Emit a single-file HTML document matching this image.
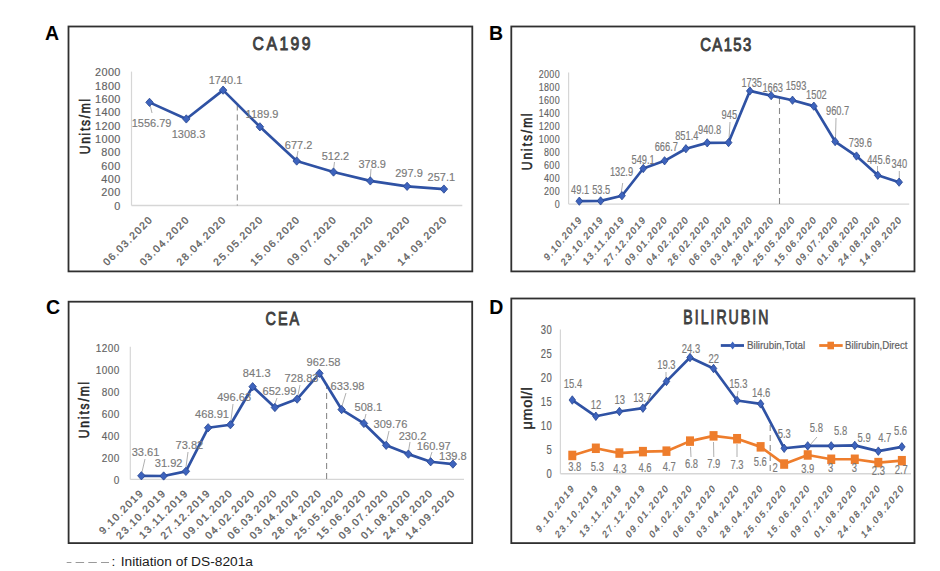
<!DOCTYPE html>
<html><head><meta charset="utf-8"><style>
html,body{margin:0;padding:0;background:#fff;width:940px;height:571px;overflow:hidden}
svg{display:block}
text{font-family:"Liberation Sans", sans-serif}
</style></head><body>
<svg width="940" height="571" viewBox="0 0 940 571">
<rect width="940" height="571" fill="#fff"/>
<g>
<rect x="68.5" y="26.5" width="403.8" height="244.89999999999998" fill="none" stroke="#303030" stroke-width="1.8"/>
<text transform="translate(281.6,49.9) scale(0.83,1)" font-size="19.0" fill="#404040" stroke="#404040" stroke-width="0.95" text-anchor="middle" textLength="69.94" lengthAdjust="spacing">CA199</text>
<text transform="translate(89.5,126.5) rotate(-90) scale(0.86,1)" font-size="14" fill="#262626" stroke="#262626" stroke-width="0.55" text-anchor="middle" textLength="64.48" lengthAdjust="spacing">Units/ml</text>
<text transform="translate(120.4,209.50) scale(1.0,1)" font-size="10.9" fill="#636363" stroke="#636363" stroke-width="0.15" text-anchor="end" textLength="6.37" lengthAdjust="spacing">0</text>
<text transform="translate(120.4,196.17) scale(1.0,1)" font-size="10.9" fill="#636363" stroke="#636363" stroke-width="0.15" text-anchor="end" textLength="19.10" lengthAdjust="spacing">200</text>
<text transform="translate(120.4,182.84) scale(1.0,1)" font-size="10.9" fill="#636363" stroke="#636363" stroke-width="0.15" text-anchor="end" textLength="19.10" lengthAdjust="spacing">400</text>
<text transform="translate(120.4,169.51) scale(1.0,1)" font-size="10.9" fill="#636363" stroke="#636363" stroke-width="0.15" text-anchor="end" textLength="19.10" lengthAdjust="spacing">600</text>
<text transform="translate(120.4,156.18) scale(1.0,1)" font-size="10.9" fill="#636363" stroke="#636363" stroke-width="0.15" text-anchor="end" textLength="19.10" lengthAdjust="spacing">800</text>
<text transform="translate(120.4,142.85) scale(1.0,1)" font-size="10.9" fill="#636363" stroke="#636363" stroke-width="0.15" text-anchor="end" textLength="25.46" lengthAdjust="spacing">1000</text>
<text transform="translate(120.4,129.52) scale(1.0,1)" font-size="10.9" fill="#636363" stroke="#636363" stroke-width="0.15" text-anchor="end" textLength="25.46" lengthAdjust="spacing">1200</text>
<text transform="translate(120.4,116.19) scale(1.0,1)" font-size="10.9" fill="#636363" stroke="#636363" stroke-width="0.15" text-anchor="end" textLength="25.46" lengthAdjust="spacing">1400</text>
<text transform="translate(120.4,102.86) scale(1.0,1)" font-size="10.9" fill="#636363" stroke="#636363" stroke-width="0.15" text-anchor="end" textLength="25.46" lengthAdjust="spacing">1600</text>
<text transform="translate(120.4,89.53) scale(1.0,1)" font-size="10.9" fill="#636363" stroke="#636363" stroke-width="0.15" text-anchor="end" textLength="25.46" lengthAdjust="spacing">1800</text>
<text transform="translate(120.4,76.20) scale(1.0,1)" font-size="10.9" fill="#636363" stroke="#636363" stroke-width="0.15" text-anchor="end" textLength="25.46" lengthAdjust="spacing">2000</text>
<line x1="131.5" y1="71.6" x2="131.5" y2="205.5" stroke="#d6d6d6" stroke-width="1.2"/>
<line x1="131.5" y1="205.5" x2="462.3" y2="205.5" stroke="#d6d6d6" stroke-width="1.4"/>
<line x1="237.3" y1="104.5" x2="237.3" y2="205.5" stroke="#8a8a8a" stroke-width="1.1" stroke-dasharray="6,4"/>
<line x1="150.2" y1="105.6" x2="152" y2="113" stroke="#a6a6a6" stroke-width="0.9"/>
<line x1="298" y1="151" x2="296.8" y2="158" stroke="#a6a6a6" stroke-width="0.9"/>
<line x1="334.5" y1="162" x2="333.6" y2="169" stroke="#a6a6a6" stroke-width="0.9"/>
<line x1="371" y1="169" x2="370.3" y2="178" stroke="#a6a6a6" stroke-width="0.9"/>
<polyline points="149.50,102.36 186.30,118.94 223.10,90.14 259.90,126.83 296.70,161.03 333.50,172.04 370.30,180.93 407.10,186.33 443.90,189.05" fill="none" stroke="#2f52a4" stroke-width="2.7" stroke-linejoin="round"/>
<path d="M149.50 98.21L153.25 102.36L149.50 106.51L145.75 102.36Z" fill="#3d63bd" stroke="#27458f" stroke-width="0.8"/>
<path d="M186.30 114.79L190.05 118.94L186.30 123.09L182.55 118.94Z" fill="#3d63bd" stroke="#27458f" stroke-width="0.8"/>
<path d="M223.10 85.99L226.85 90.14L223.10 94.29L219.35 90.14Z" fill="#3d63bd" stroke="#27458f" stroke-width="0.8"/>
<path d="M259.90 122.68L263.65 126.83L259.90 130.98L256.15 126.83Z" fill="#3d63bd" stroke="#27458f" stroke-width="0.8"/>
<path d="M296.70 156.88L300.45 161.03L296.70 165.18L292.95 161.03Z" fill="#3d63bd" stroke="#27458f" stroke-width="0.8"/>
<path d="M333.50 167.89L337.25 172.04L333.50 176.19L329.75 172.04Z" fill="#3d63bd" stroke="#27458f" stroke-width="0.8"/>
<path d="M370.30 176.78L374.05 180.93L370.30 185.08L366.55 180.93Z" fill="#3d63bd" stroke="#27458f" stroke-width="0.8"/>
<path d="M407.10 182.18L410.85 186.33L407.10 190.48L403.35 186.33Z" fill="#3d63bd" stroke="#27458f" stroke-width="0.8"/>
<path d="M443.90 184.90L447.65 189.05L443.90 193.20L440.15 189.05Z" fill="#3d63bd" stroke="#27458f" stroke-width="0.8"/>
<text transform="translate(151.60,127.49) scale(0.94,1)" font-size="11.7" fill="#7a7a7a" stroke="#7a7a7a" stroke-width="0.15" text-anchor="middle">1556.79</text>
<text transform="translate(188.50,137.79) scale(0.94,1)" font-size="11.7" fill="#7a7a7a" stroke="#7a7a7a" stroke-width="0.15" text-anchor="middle">1308.3</text>
<text transform="translate(225.50,84.09) scale(0.94,1)" font-size="11.7" fill="#7a7a7a" stroke="#7a7a7a" stroke-width="0.15" text-anchor="middle">1740.1</text>
<text transform="translate(262.00,117.69) scale(0.94,1)" font-size="11.7" fill="#7a7a7a" stroke="#7a7a7a" stroke-width="0.15" text-anchor="middle">1189.9</text>
<text transform="translate(298.60,149.19) scale(0.94,1)" font-size="11.7" fill="#7a7a7a" stroke="#7a7a7a" stroke-width="0.15" text-anchor="middle">677.2</text>
<text transform="translate(335.40,160.49) scale(0.94,1)" font-size="11.7" fill="#7a7a7a" stroke="#7a7a7a" stroke-width="0.15" text-anchor="middle">512.2</text>
<text transform="translate(372.20,167.59) scale(0.94,1)" font-size="11.7" fill="#7a7a7a" stroke="#7a7a7a" stroke-width="0.15" text-anchor="middle">378.9</text>
<text transform="translate(409.00,176.79) scale(0.94,1)" font-size="11.7" fill="#7a7a7a" stroke="#7a7a7a" stroke-width="0.15" text-anchor="middle">297.9</text>
<text transform="translate(441.30,181.19) scale(0.94,1)" font-size="11.7" fill="#7a7a7a" stroke="#7a7a7a" stroke-width="0.15" text-anchor="middle">257.1</text>
<text transform="translate(152.50,221) scale(1.0,1) rotate(-45)" font-size="10.2" fill="#5f5f5f" stroke="#5f5f5f" stroke-width="0.35" text-anchor="end" textLength="64.07" lengthAdjust="spacing">06.03.2020</text>
<text transform="translate(189.30,221) scale(1.0,1) rotate(-45)" font-size="10.2" fill="#5f5f5f" stroke="#5f5f5f" stroke-width="0.35" text-anchor="end" textLength="64.07" lengthAdjust="spacing">03.04.2020</text>
<text transform="translate(226.10,221) scale(1.0,1) rotate(-45)" font-size="10.2" fill="#5f5f5f" stroke="#5f5f5f" stroke-width="0.35" text-anchor="end" textLength="64.07" lengthAdjust="spacing">28.04.2020</text>
<text transform="translate(262.90,221) scale(1.0,1) rotate(-45)" font-size="10.2" fill="#5f5f5f" stroke="#5f5f5f" stroke-width="0.35" text-anchor="end" textLength="64.07" lengthAdjust="spacing">25.05.2020</text>
<text transform="translate(299.70,221) scale(1.0,1) rotate(-45)" font-size="10.2" fill="#5f5f5f" stroke="#5f5f5f" stroke-width="0.35" text-anchor="end" textLength="64.07" lengthAdjust="spacing">15.06.2020</text>
<text transform="translate(336.50,221) scale(1.0,1) rotate(-45)" font-size="10.2" fill="#5f5f5f" stroke="#5f5f5f" stroke-width="0.35" text-anchor="end" textLength="64.07" lengthAdjust="spacing">09.07.2020</text>
<text transform="translate(373.30,221) scale(1.0,1) rotate(-45)" font-size="10.2" fill="#5f5f5f" stroke="#5f5f5f" stroke-width="0.35" text-anchor="end" textLength="64.07" lengthAdjust="spacing">01.08.2020</text>
<text transform="translate(410.10,221) scale(1.0,1) rotate(-45)" font-size="10.2" fill="#5f5f5f" stroke="#5f5f5f" stroke-width="0.35" text-anchor="end" textLength="64.07" lengthAdjust="spacing">24.08.2020</text>
<text transform="translate(446.90,221) scale(1.0,1) rotate(-45)" font-size="10.2" fill="#5f5f5f" stroke="#5f5f5f" stroke-width="0.35" text-anchor="end" textLength="64.07" lengthAdjust="spacing">14.09.2020</text>
</g>
<rect x="511.3" y="26.5" width="403.2" height="244.89999999999998" fill="none" stroke="#303030" stroke-width="1.8"/>
<text transform="translate(725.7,50.6) scale(0.8,1)" font-size="18.6" fill="#404040" stroke="#404040" stroke-width="0.95" text-anchor="middle" textLength="63.81" lengthAdjust="spacing">CA153</text>
<text transform="translate(531.5,141.7) rotate(-90) scale(0.86,1)" font-size="14" fill="#262626" stroke="#262626" stroke-width="0.55" text-anchor="middle" textLength="66.22" lengthAdjust="spacing">Units/ml</text>
<text transform="translate(559.6,208.20) scale(0.78,1)" font-size="11.45" fill="#636363" stroke="#636363" stroke-width="0.15" text-anchor="end" textLength="6.69" lengthAdjust="spacing">0</text>
<text transform="translate(559.6,195.15) scale(0.78,1)" font-size="11.45" fill="#636363" stroke="#636363" stroke-width="0.15" text-anchor="end" textLength="20.06" lengthAdjust="spacing">200</text>
<text transform="translate(559.6,182.10) scale(0.78,1)" font-size="11.45" fill="#636363" stroke="#636363" stroke-width="0.15" text-anchor="end" textLength="20.06" lengthAdjust="spacing">400</text>
<text transform="translate(559.6,169.05) scale(0.78,1)" font-size="11.45" fill="#636363" stroke="#636363" stroke-width="0.15" text-anchor="end" textLength="20.06" lengthAdjust="spacing">600</text>
<text transform="translate(559.6,156.00) scale(0.78,1)" font-size="11.45" fill="#636363" stroke="#636363" stroke-width="0.15" text-anchor="end" textLength="20.06" lengthAdjust="spacing">800</text>
<text transform="translate(559.6,142.95) scale(0.78,1)" font-size="11.45" fill="#636363" stroke="#636363" stroke-width="0.15" text-anchor="end" textLength="26.75" lengthAdjust="spacing">1000</text>
<text transform="translate(559.6,129.90) scale(0.78,1)" font-size="11.45" fill="#636363" stroke="#636363" stroke-width="0.15" text-anchor="end" textLength="26.75" lengthAdjust="spacing">1200</text>
<text transform="translate(559.6,116.85) scale(0.78,1)" font-size="11.45" fill="#636363" stroke="#636363" stroke-width="0.15" text-anchor="end" textLength="26.75" lengthAdjust="spacing">1400</text>
<text transform="translate(559.6,103.80) scale(0.78,1)" font-size="11.45" fill="#636363" stroke="#636363" stroke-width="0.15" text-anchor="end" textLength="26.75" lengthAdjust="spacing">1600</text>
<text transform="translate(559.6,90.75) scale(0.78,1)" font-size="11.45" fill="#636363" stroke="#636363" stroke-width="0.15" text-anchor="end" textLength="26.75" lengthAdjust="spacing">1800</text>
<text transform="translate(559.6,77.70) scale(0.78,1)" font-size="11.45" fill="#636363" stroke="#636363" stroke-width="0.15" text-anchor="end" textLength="26.75" lengthAdjust="spacing">2000</text>
<line x1="568.6" y1="72.5" x2="568.6" y2="204.1" stroke="#d6d6d6" stroke-width="1.2"/>
<line x1="568.6" y1="204.1" x2="909.2" y2="204.1" stroke="#d6d6d6" stroke-width="1.4"/>
<line x1="779.5" y1="98" x2="779.5" y2="204.1" stroke="#8a8a8a" stroke-width="1.1" stroke-dasharray="6,4"/>
<line x1="622.7" y1="183" x2="621.3" y2="192" stroke="#a6a6a6" stroke-width="0.9"/>
<line x1="730" y1="122" x2="729" y2="139" stroke="#a6a6a6" stroke-width="0.9"/>
<line x1="836" y1="118" x2="835.5" y2="138" stroke="#a6a6a6" stroke-width="0.9"/>
<line x1="877.5" y1="166" x2="877.5" y2="172" stroke="#a6a6a6" stroke-width="0.9"/>
<line x1="899.3" y1="171" x2="899.3" y2="178" stroke="#a6a6a6" stroke-width="0.9"/>
<polyline points="579.30,201.19 600.62,200.90 621.94,195.71 643.26,168.49 664.58,160.80 685.90,148.72 707.22,142.87 728.54,142.60 749.86,90.93 771.18,95.64 792.50,100.22 813.82,106.17 835.14,141.57 856.46,156.03 877.78,175.26 899.10,182.16" fill="none" stroke="#2f52a4" stroke-width="2.7" stroke-linejoin="round"/>
<path d="M579.30 197.04L582.70 201.19L579.30 205.34L575.90 201.19Z" fill="#3d63bd" stroke="#27458f" stroke-width="0.8"/>
<path d="M600.62 196.75L604.02 200.90L600.62 205.05L597.22 200.90Z" fill="#3d63bd" stroke="#27458f" stroke-width="0.8"/>
<path d="M621.94 191.56L625.34 195.71L621.94 199.86L618.54 195.71Z" fill="#3d63bd" stroke="#27458f" stroke-width="0.8"/>
<path d="M643.26 164.34L646.66 168.49L643.26 172.64L639.86 168.49Z" fill="#3d63bd" stroke="#27458f" stroke-width="0.8"/>
<path d="M664.58 156.65L667.98 160.80L664.58 164.95L661.18 160.80Z" fill="#3d63bd" stroke="#27458f" stroke-width="0.8"/>
<path d="M685.90 144.57L689.30 148.72L685.90 152.87L682.50 148.72Z" fill="#3d63bd" stroke="#27458f" stroke-width="0.8"/>
<path d="M707.22 138.72L710.62 142.87L707.22 147.02L703.82 142.87Z" fill="#3d63bd" stroke="#27458f" stroke-width="0.8"/>
<path d="M728.54 138.45L731.94 142.60L728.54 146.75L725.14 142.60Z" fill="#3d63bd" stroke="#27458f" stroke-width="0.8"/>
<path d="M749.86 86.78L753.26 90.93L749.86 95.08L746.46 90.93Z" fill="#3d63bd" stroke="#27458f" stroke-width="0.8"/>
<path d="M771.18 91.49L774.58 95.64L771.18 99.79L767.78 95.64Z" fill="#3d63bd" stroke="#27458f" stroke-width="0.8"/>
<path d="M792.50 96.07L795.90 100.22L792.50 104.37L789.10 100.22Z" fill="#3d63bd" stroke="#27458f" stroke-width="0.8"/>
<path d="M813.82 102.02L817.22 106.17L813.82 110.32L810.42 106.17Z" fill="#3d63bd" stroke="#27458f" stroke-width="0.8"/>
<path d="M835.14 137.42L838.54 141.57L835.14 145.72L831.74 141.57Z" fill="#3d63bd" stroke="#27458f" stroke-width="0.8"/>
<path d="M856.46 151.88L859.86 156.03L856.46 160.18L853.06 156.03Z" fill="#3d63bd" stroke="#27458f" stroke-width="0.8"/>
<path d="M877.78 171.11L881.18 175.26L877.78 179.41L874.38 175.26Z" fill="#3d63bd" stroke="#27458f" stroke-width="0.8"/>
<path d="M899.10 178.01L902.50 182.16L899.10 186.31L895.70 182.16Z" fill="#3d63bd" stroke="#27458f" stroke-width="0.8"/>
<text transform="translate(580.10,194.16) scale(0.78,1)" font-size="11.9" fill="#7a7a7a" stroke="#7a7a7a" stroke-width="0.15" text-anchor="middle">49.1</text>
<text transform="translate(601.20,194.16) scale(0.78,1)" font-size="11.9" fill="#7a7a7a" stroke="#7a7a7a" stroke-width="0.15" text-anchor="middle">53.5</text>
<text transform="translate(621.50,176.36) scale(0.78,1)" font-size="11.9" fill="#7a7a7a" stroke="#7a7a7a" stroke-width="0.15" text-anchor="middle">132.9</text>
<text transform="translate(643.10,163.66) scale(0.78,1)" font-size="11.9" fill="#7a7a7a" stroke="#7a7a7a" stroke-width="0.15" text-anchor="middle">549.1</text>
<text transform="translate(666.30,151.26) scale(0.78,1)" font-size="11.9" fill="#7a7a7a" stroke="#7a7a7a" stroke-width="0.15" text-anchor="middle">666.7</text>
<text transform="translate(686.80,139.66) scale(0.78,1)" font-size="11.9" fill="#7a7a7a" stroke="#7a7a7a" stroke-width="0.15" text-anchor="middle">851.4</text>
<text transform="translate(709.60,133.66) scale(0.78,1)" font-size="11.9" fill="#7a7a7a" stroke="#7a7a7a" stroke-width="0.15" text-anchor="middle">940.8</text>
<text transform="translate(729.30,119.16) scale(0.78,1)" font-size="11.9" fill="#7a7a7a" stroke="#7a7a7a" stroke-width="0.15" text-anchor="middle">945</text>
<text transform="translate(751.70,87.16) scale(0.78,1)" font-size="11.9" fill="#7a7a7a" stroke="#7a7a7a" stroke-width="0.15" text-anchor="middle">1735</text>
<text transform="translate(772.70,91.56) scale(0.78,1)" font-size="11.9" fill="#7a7a7a" stroke="#7a7a7a" stroke-width="0.15" text-anchor="middle">1663</text>
<text transform="translate(796.00,90.16) scale(0.78,1)" font-size="11.9" fill="#7a7a7a" stroke="#7a7a7a" stroke-width="0.15" text-anchor="middle">1593</text>
<text transform="translate(816.40,98.86) scale(0.78,1)" font-size="11.9" fill="#7a7a7a" stroke="#7a7a7a" stroke-width="0.15" text-anchor="middle">1502</text>
<text transform="translate(837.60,115.06) scale(0.78,1)" font-size="11.9" fill="#7a7a7a" stroke="#7a7a7a" stroke-width="0.15" text-anchor="middle">960.7</text>
<text transform="translate(860.40,146.66) scale(0.78,1)" font-size="11.9" fill="#7a7a7a" stroke="#7a7a7a" stroke-width="0.15" text-anchor="middle">739.6</text>
<text transform="translate(878.80,163.66) scale(0.78,1)" font-size="11.9" fill="#7a7a7a" stroke="#7a7a7a" stroke-width="0.15" text-anchor="middle">445.6</text>
<text transform="translate(899.30,168.46) scale(0.78,1)" font-size="11.9" fill="#7a7a7a" stroke="#7a7a7a" stroke-width="0.15" text-anchor="middle">340</text>
<text transform="translate(581.80,221) scale(0.85,1) rotate(-45)" font-size="10.2" fill="#5f5f5f" stroke="#5f5f5f" stroke-width="0.35" text-anchor="end" textLength="56.95" lengthAdjust="spacing">9.10.2019</text>
<text transform="translate(603.12,221) scale(0.85,1) rotate(-45)" font-size="10.2" fill="#5f5f5f" stroke="#5f5f5f" stroke-width="0.35" text-anchor="end" textLength="64.07" lengthAdjust="spacing">23.10.2019</text>
<text transform="translate(624.44,221) scale(0.85,1) rotate(-45)" font-size="10.2" fill="#5f5f5f" stroke="#5f5f5f" stroke-width="0.35" text-anchor="end" textLength="63.12" lengthAdjust="spacing">13.11.2019</text>
<text transform="translate(645.76,221) scale(0.85,1) rotate(-45)" font-size="10.2" fill="#5f5f5f" stroke="#5f5f5f" stroke-width="0.35" text-anchor="end" textLength="64.07" lengthAdjust="spacing">27.12.2019</text>
<text transform="translate(667.08,221) scale(0.85,1) rotate(-45)" font-size="10.2" fill="#5f5f5f" stroke="#5f5f5f" stroke-width="0.35" text-anchor="end" textLength="64.07" lengthAdjust="spacing">09.01.2020</text>
<text transform="translate(688.40,221) scale(0.85,1) rotate(-45)" font-size="10.2" fill="#5f5f5f" stroke="#5f5f5f" stroke-width="0.35" text-anchor="end" textLength="64.07" lengthAdjust="spacing">04.02.2020</text>
<text transform="translate(709.72,221) scale(0.85,1) rotate(-45)" font-size="10.2" fill="#5f5f5f" stroke="#5f5f5f" stroke-width="0.35" text-anchor="end" textLength="64.07" lengthAdjust="spacing">26.02.2020</text>
<text transform="translate(731.04,221) scale(0.85,1) rotate(-45)" font-size="10.2" fill="#5f5f5f" stroke="#5f5f5f" stroke-width="0.35" text-anchor="end" textLength="64.07" lengthAdjust="spacing">06.03.2020</text>
<text transform="translate(752.36,221) scale(0.85,1) rotate(-45)" font-size="10.2" fill="#5f5f5f" stroke="#5f5f5f" stroke-width="0.35" text-anchor="end" textLength="64.07" lengthAdjust="spacing">03.04.2020</text>
<text transform="translate(773.68,221) scale(0.85,1) rotate(-45)" font-size="10.2" fill="#5f5f5f" stroke="#5f5f5f" stroke-width="0.35" text-anchor="end" textLength="64.07" lengthAdjust="spacing">28.04.2020</text>
<text transform="translate(795.00,221) scale(0.85,1) rotate(-45)" font-size="10.2" fill="#5f5f5f" stroke="#5f5f5f" stroke-width="0.35" text-anchor="end" textLength="64.07" lengthAdjust="spacing">25.05.2020</text>
<text transform="translate(816.32,221) scale(0.85,1) rotate(-45)" font-size="10.2" fill="#5f5f5f" stroke="#5f5f5f" stroke-width="0.35" text-anchor="end" textLength="64.07" lengthAdjust="spacing">15.06.2020</text>
<text transform="translate(837.64,221) scale(0.85,1) rotate(-45)" font-size="10.2" fill="#5f5f5f" stroke="#5f5f5f" stroke-width="0.35" text-anchor="end" textLength="64.07" lengthAdjust="spacing">09.07.2020</text>
<text transform="translate(858.96,221) scale(0.85,1) rotate(-45)" font-size="10.2" fill="#5f5f5f" stroke="#5f5f5f" stroke-width="0.35" text-anchor="end" textLength="64.07" lengthAdjust="spacing">01.08.2020</text>
<text transform="translate(880.28,221) scale(0.85,1) rotate(-45)" font-size="10.2" fill="#5f5f5f" stroke="#5f5f5f" stroke-width="0.35" text-anchor="end" textLength="64.07" lengthAdjust="spacing">24.08.2020</text>
<text transform="translate(901.60,221) scale(0.85,1) rotate(-45)" font-size="10.2" fill="#5f5f5f" stroke="#5f5f5f" stroke-width="0.35" text-anchor="end" textLength="64.07" lengthAdjust="spacing">14.09.2020</text>
<rect x="68.6" y="301.7" width="403.6" height="241.40000000000003" fill="none" stroke="#303030" stroke-width="1.8"/>
<text transform="translate(282.3,325.1) scale(0.76,1)" font-size="19.0" fill="#404040" stroke="#404040" stroke-width="0.95" text-anchor="middle" textLength="44.28" lengthAdjust="spacing">CEA</text>
<text transform="translate(88.8,410) rotate(-90) scale(0.86,1)" font-size="14" fill="#262626" stroke="#262626" stroke-width="0.55" text-anchor="middle" textLength="65.64" lengthAdjust="spacing">Units/ml</text>
<text transform="translate(119.3,483.62) scale(0.873,1)" font-size="11.5" fill="#636363" stroke="#636363" stroke-width="0.15" text-anchor="end" textLength="6.72" lengthAdjust="spacing">0</text>
<text transform="translate(119.3,461.60) scale(0.873,1)" font-size="11.5" fill="#636363" stroke="#636363" stroke-width="0.15" text-anchor="end" textLength="20.15" lengthAdjust="spacing">200</text>
<text transform="translate(119.3,439.58) scale(0.873,1)" font-size="11.5" fill="#636363" stroke="#636363" stroke-width="0.15" text-anchor="end" textLength="20.15" lengthAdjust="spacing">400</text>
<text transform="translate(119.3,417.56) scale(0.873,1)" font-size="11.5" fill="#636363" stroke="#636363" stroke-width="0.15" text-anchor="end" textLength="20.15" lengthAdjust="spacing">600</text>
<text transform="translate(119.3,395.54) scale(0.873,1)" font-size="11.5" fill="#636363" stroke="#636363" stroke-width="0.15" text-anchor="end" textLength="20.15" lengthAdjust="spacing">800</text>
<text transform="translate(119.3,373.52) scale(0.873,1)" font-size="11.5" fill="#636363" stroke="#636363" stroke-width="0.15" text-anchor="end" textLength="26.86" lengthAdjust="spacing">1000</text>
<text transform="translate(119.3,351.50) scale(0.873,1)" font-size="11.5" fill="#636363" stroke="#636363" stroke-width="0.15" text-anchor="end" textLength="26.86" lengthAdjust="spacing">1200</text>
<line x1="130.3" y1="346.7" x2="130.3" y2="479.4" stroke="#d6d6d6" stroke-width="1.2"/>
<line x1="130.3" y1="479.4" x2="464" y2="479.4" stroke="#d6d6d6" stroke-width="1.4"/>
<line x1="326.6" y1="383" x2="326.6" y2="479.4" stroke="#8a8a8a" stroke-width="1.1" stroke-dasharray="6,4"/>
<line x1="145" y1="459" x2="142" y2="472" stroke="#a6a6a6" stroke-width="0.9"/>
<line x1="188" y1="452" x2="186" y2="467" stroke="#a6a6a6" stroke-width="0.9"/>
<line x1="233" y1="404" x2="231" y2="420" stroke="#a6a6a6" stroke-width="0.9"/>
<line x1="277" y1="398" x2="274.5" y2="405" stroke="#a6a6a6" stroke-width="0.9"/>
<line x1="300" y1="385" x2="298" y2="395" stroke="#a6a6a6" stroke-width="0.9"/>
<line x1="346" y1="393" x2="342" y2="406" stroke="#a6a6a6" stroke-width="0.9"/>
<line x1="366" y1="414" x2="364.5" y2="420" stroke="#a6a6a6" stroke-width="0.9"/>
<line x1="389" y1="431" x2="386.5" y2="442" stroke="#a6a6a6" stroke-width="0.9"/>
<line x1="410" y1="442" x2="408.5" y2="451" stroke="#a6a6a6" stroke-width="0.9"/>
<line x1="432" y1="452" x2="430" y2="458" stroke="#a6a6a6" stroke-width="0.9"/>
<polyline points="141.40,475.79 163.65,475.98 185.90,471.36 208.15,427.78 230.40,424.72 252.65,386.70 274.90,407.48 297.15,399.11 319.40,373.33 341.65,409.57 363.90,423.46 386.15,445.33 408.40,454.11 430.65,461.75 452.90,464.08" fill="none" stroke="#2f52a4" stroke-width="2.7" stroke-linejoin="round"/>
<path d="M141.40 471.64L145.15 475.79L141.40 479.94L137.65 475.79Z" fill="#3d63bd" stroke="#27458f" stroke-width="0.8"/>
<path d="M163.65 471.83L167.40 475.98L163.65 480.13L159.90 475.98Z" fill="#3d63bd" stroke="#27458f" stroke-width="0.8"/>
<path d="M185.90 467.21L189.65 471.36L185.90 475.51L182.15 471.36Z" fill="#3d63bd" stroke="#27458f" stroke-width="0.8"/>
<path d="M208.15 423.63L211.90 427.78L208.15 431.93L204.40 427.78Z" fill="#3d63bd" stroke="#27458f" stroke-width="0.8"/>
<path d="M230.40 420.57L234.15 424.72L230.40 428.87L226.65 424.72Z" fill="#3d63bd" stroke="#27458f" stroke-width="0.8"/>
<path d="M252.65 382.55L256.40 386.70L252.65 390.85L248.90 386.70Z" fill="#3d63bd" stroke="#27458f" stroke-width="0.8"/>
<path d="M274.90 403.33L278.65 407.48L274.90 411.63L271.15 407.48Z" fill="#3d63bd" stroke="#27458f" stroke-width="0.8"/>
<path d="M297.15 394.96L300.90 399.11L297.15 403.26L293.40 399.11Z" fill="#3d63bd" stroke="#27458f" stroke-width="0.8"/>
<path d="M319.40 369.18L323.15 373.33L319.40 377.48L315.65 373.33Z" fill="#3d63bd" stroke="#27458f" stroke-width="0.8"/>
<path d="M341.65 405.42L345.40 409.57L341.65 413.72L337.90 409.57Z" fill="#3d63bd" stroke="#27458f" stroke-width="0.8"/>
<path d="M363.90 419.31L367.65 423.46L363.90 427.61L360.15 423.46Z" fill="#3d63bd" stroke="#27458f" stroke-width="0.8"/>
<path d="M386.15 441.18L389.90 445.33L386.15 449.48L382.40 445.33Z" fill="#3d63bd" stroke="#27458f" stroke-width="0.8"/>
<path d="M408.40 449.96L412.15 454.11L408.40 458.26L404.65 454.11Z" fill="#3d63bd" stroke="#27458f" stroke-width="0.8"/>
<path d="M430.65 457.60L434.40 461.75L430.65 465.90L426.90 461.75Z" fill="#3d63bd" stroke="#27458f" stroke-width="0.8"/>
<path d="M452.90 459.93L456.65 464.08L452.90 468.23L449.15 464.08Z" fill="#3d63bd" stroke="#27458f" stroke-width="0.8"/>
<text transform="translate(145.50,456.42) scale(0.94,1)" font-size="11.8" fill="#7a7a7a" stroke="#7a7a7a" stroke-width="0.15" text-anchor="middle">33.61</text>
<text transform="translate(168.60,466.82) scale(0.94,1)" font-size="11.8" fill="#7a7a7a" stroke="#7a7a7a" stroke-width="0.15" text-anchor="middle">31.92</text>
<text transform="translate(189.40,449.02) scale(0.94,1)" font-size="11.8" fill="#7a7a7a" stroke="#7a7a7a" stroke-width="0.15" text-anchor="middle">73.82</text>
<text transform="translate(212.00,417.82) scale(0.94,1)" font-size="11.8" fill="#7a7a7a" stroke="#7a7a7a" stroke-width="0.15" text-anchor="middle">468.91</text>
<text transform="translate(234.10,400.62) scale(0.94,1)" font-size="11.8" fill="#7a7a7a" stroke="#7a7a7a" stroke-width="0.15" text-anchor="middle">496.63</text>
<text transform="translate(256.70,377.42) scale(0.94,1)" font-size="11.8" fill="#7a7a7a" stroke="#7a7a7a" stroke-width="0.15" text-anchor="middle">841.3</text>
<text transform="translate(279.40,394.82) scale(0.94,1)" font-size="11.8" fill="#7a7a7a" stroke="#7a7a7a" stroke-width="0.15" text-anchor="middle">652.99</text>
<text transform="translate(301.50,381.82) scale(0.94,1)" font-size="11.8" fill="#7a7a7a" stroke="#7a7a7a" stroke-width="0.15" text-anchor="middle">728.83</text>
<text transform="translate(323.50,365.82) scale(0.94,1)" font-size="11.8" fill="#7a7a7a" stroke="#7a7a7a" stroke-width="0.15" text-anchor="middle">962.58</text>
<text transform="translate(347.50,390.12) scale(0.94,1)" font-size="11.8" fill="#7a7a7a" stroke="#7a7a7a" stroke-width="0.15" text-anchor="middle">633.98</text>
<text transform="translate(368.40,411.42) scale(0.94,1)" font-size="11.8" fill="#7a7a7a" stroke="#7a7a7a" stroke-width="0.15" text-anchor="middle">508.1</text>
<text transform="translate(390.40,427.82) scale(0.94,1)" font-size="11.8" fill="#7a7a7a" stroke="#7a7a7a" stroke-width="0.15" text-anchor="middle">309.76</text>
<text transform="translate(412.50,439.62) scale(0.94,1)" font-size="11.8" fill="#7a7a7a" stroke="#7a7a7a" stroke-width="0.15" text-anchor="middle">230.2</text>
<text transform="translate(433.80,449.92) scale(0.94,1)" font-size="11.8" fill="#7a7a7a" stroke="#7a7a7a" stroke-width="0.15" text-anchor="middle">160.97</text>
<text transform="translate(452.90,460.42) scale(0.94,1)" font-size="11.8" fill="#7a7a7a" stroke="#7a7a7a" stroke-width="0.15" text-anchor="middle">139.8</text>
<text transform="translate(143.40,494.5) scale(1.0,1) rotate(-45)" font-size="10.2" fill="#5f5f5f" stroke="#5f5f5f" stroke-width="0.35" text-anchor="end" textLength="56.95" lengthAdjust="spacing">9.10.2019</text>
<text transform="translate(165.65,494.5) scale(1.0,1) rotate(-45)" font-size="10.2" fill="#5f5f5f" stroke="#5f5f5f" stroke-width="0.35" text-anchor="end" textLength="64.07" lengthAdjust="spacing">23.10.2019</text>
<text transform="translate(187.90,494.5) scale(1.0,1) rotate(-45)" font-size="10.2" fill="#5f5f5f" stroke="#5f5f5f" stroke-width="0.35" text-anchor="end" textLength="63.12" lengthAdjust="spacing">13.11.2019</text>
<text transform="translate(210.15,494.5) scale(1.0,1) rotate(-45)" font-size="10.2" fill="#5f5f5f" stroke="#5f5f5f" stroke-width="0.35" text-anchor="end" textLength="64.07" lengthAdjust="spacing">27.12.2019</text>
<text transform="translate(232.40,494.5) scale(1.0,1) rotate(-45)" font-size="10.2" fill="#5f5f5f" stroke="#5f5f5f" stroke-width="0.35" text-anchor="end" textLength="64.07" lengthAdjust="spacing">09.01.2020</text>
<text transform="translate(254.65,494.5) scale(1.0,1) rotate(-45)" font-size="10.2" fill="#5f5f5f" stroke="#5f5f5f" stroke-width="0.35" text-anchor="end" textLength="64.07" lengthAdjust="spacing">04.02.2020</text>
<text transform="translate(276.90,494.5) scale(1.0,1) rotate(-45)" font-size="10.2" fill="#5f5f5f" stroke="#5f5f5f" stroke-width="0.35" text-anchor="end" textLength="64.07" lengthAdjust="spacing">06.03.2020</text>
<text transform="translate(299.15,494.5) scale(1.0,1) rotate(-45)" font-size="10.2" fill="#5f5f5f" stroke="#5f5f5f" stroke-width="0.35" text-anchor="end" textLength="64.07" lengthAdjust="spacing">03.04.2020</text>
<text transform="translate(321.40,494.5) scale(1.0,1) rotate(-45)" font-size="10.2" fill="#5f5f5f" stroke="#5f5f5f" stroke-width="0.35" text-anchor="end" textLength="64.07" lengthAdjust="spacing">28.04.2020</text>
<text transform="translate(343.65,494.5) scale(1.0,1) rotate(-45)" font-size="10.2" fill="#5f5f5f" stroke="#5f5f5f" stroke-width="0.35" text-anchor="end" textLength="64.07" lengthAdjust="spacing">25.05.2020</text>
<text transform="translate(365.90,494.5) scale(1.0,1) rotate(-45)" font-size="10.2" fill="#5f5f5f" stroke="#5f5f5f" stroke-width="0.35" text-anchor="end" textLength="64.07" lengthAdjust="spacing">15.06.2020</text>
<text transform="translate(388.15,494.5) scale(1.0,1) rotate(-45)" font-size="10.2" fill="#5f5f5f" stroke="#5f5f5f" stroke-width="0.35" text-anchor="end" textLength="64.07" lengthAdjust="spacing">09.07.2020</text>
<text transform="translate(410.40,494.5) scale(1.0,1) rotate(-45)" font-size="10.2" fill="#5f5f5f" stroke="#5f5f5f" stroke-width="0.35" text-anchor="end" textLength="64.07" lengthAdjust="spacing">01.08.2020</text>
<text transform="translate(432.65,494.5) scale(1.0,1) rotate(-45)" font-size="10.2" fill="#5f5f5f" stroke="#5f5f5f" stroke-width="0.35" text-anchor="end" textLength="64.07" lengthAdjust="spacing">24.08.2020</text>
<text transform="translate(454.90,494.5) scale(1.0,1) rotate(-45)" font-size="10.2" fill="#5f5f5f" stroke="#5f5f5f" stroke-width="0.35" text-anchor="end" textLength="64.07" lengthAdjust="spacing">14.09.2020</text>
<rect x="511.3" y="298.5" width="403.2" height="244.60000000000002" fill="none" stroke="#303030" stroke-width="1.8"/>
<text transform="translate(725.8,324.4) scale(0.72,1)" font-size="19.6" fill="#404040" stroke="#404040" stroke-width="0.95" text-anchor="middle" textLength="118.12" lengthAdjust="spacing">BILIRUBIN</text>
<text transform="translate(532.3,408.4) rotate(-90) scale(1.0,1)" font-size="14.5" fill="#262626" stroke="#262626" stroke-width="0.35" text-anchor="middle" textLength="42.05" lengthAdjust="spacing">μmol/l</text>
<text transform="translate(551.7,477.80) scale(0.79,1)" font-size="12" fill="#636363" stroke="#636363" stroke-width="0.15" text-anchor="end" textLength="7.01" lengthAdjust="spacing">0</text>
<text transform="translate(551.7,453.80) scale(0.79,1)" font-size="12" fill="#636363" stroke="#636363" stroke-width="0.15" text-anchor="end" textLength="7.01" lengthAdjust="spacing">5</text>
<text transform="translate(551.7,429.80) scale(0.79,1)" font-size="12" fill="#636363" stroke="#636363" stroke-width="0.15" text-anchor="end" textLength="14.02" lengthAdjust="spacing">10</text>
<text transform="translate(551.7,405.80) scale(0.79,1)" font-size="12" fill="#636363" stroke="#636363" stroke-width="0.15" text-anchor="end" textLength="14.02" lengthAdjust="spacing">15</text>
<text transform="translate(551.7,381.80) scale(0.79,1)" font-size="12" fill="#636363" stroke="#636363" stroke-width="0.15" text-anchor="end" textLength="14.02" lengthAdjust="spacing">20</text>
<text transform="translate(551.7,357.80) scale(0.79,1)" font-size="12" fill="#636363" stroke="#636363" stroke-width="0.15" text-anchor="end" textLength="14.02" lengthAdjust="spacing">25</text>
<text transform="translate(551.7,333.80) scale(0.79,1)" font-size="12" fill="#636363" stroke="#636363" stroke-width="0.15" text-anchor="end" textLength="14.02" lengthAdjust="spacing">30</text>
<line x1="560.4" y1="329.5" x2="560.4" y2="473.8" stroke="#d6d6d6" stroke-width="1.2"/>
<line x1="560.4" y1="473.8" x2="911" y2="473.8" stroke="#d6d6d6" stroke-width="1.4"/>
<line x1="770.2" y1="425" x2="770.2" y2="473.8" stroke="#8a8a8a" stroke-width="1.1" stroke-dasharray="6,4"/>
<line x1="666" y1="372" x2="666" y2="378" stroke="#a6a6a6" stroke-width="0.9"/>
<line x1="738" y1="391" x2="737" y2="397" stroke="#a6a6a6" stroke-width="0.9"/>
<line x1="810" y1="445" x2="817" y2="437" stroke="#a6a6a6" stroke-width="0.9"/>
<line x1="690.5" y1="447" x2="691" y2="457" stroke="#a6a6a6" stroke-width="0.9"/>
<line x1="713.5" y1="442" x2="713.8" y2="457" stroke="#a6a6a6" stroke-width="0.9"/>
<line x1="737" y1="444" x2="737" y2="457" stroke="#a6a6a6" stroke-width="0.9"/>
<polyline points="572.30,455.45 595.84,448.28 619.38,453.06 642.92,451.63 666.46,451.15 690.00,441.12 713.54,435.86 737.08,438.73 760.62,446.85 784.16,464.05 807.70,454.97 831.24,459.27 854.78,459.27 878.32,462.61 901.86,460.70" fill="none" stroke="#ee7d2c" stroke-width="2.7" stroke-linejoin="round"/>
<rect x="568.30" y="450.70" width="8" height="9.5" fill="#ee7d2c"/>
<rect x="591.84" y="443.53" width="8" height="9.5" fill="#ee7d2c"/>
<rect x="615.38" y="448.31" width="8" height="9.5" fill="#ee7d2c"/>
<rect x="638.92" y="446.88" width="8" height="9.5" fill="#ee7d2c"/>
<rect x="662.46" y="446.40" width="8" height="9.5" fill="#ee7d2c"/>
<rect x="686.00" y="436.37" width="8" height="9.5" fill="#ee7d2c"/>
<rect x="709.54" y="431.11" width="8" height="9.5" fill="#ee7d2c"/>
<rect x="733.08" y="433.98" width="8" height="9.5" fill="#ee7d2c"/>
<rect x="756.62" y="442.10" width="8" height="9.5" fill="#ee7d2c"/>
<rect x="780.16" y="459.30" width="8" height="9.5" fill="#ee7d2c"/>
<rect x="803.70" y="450.22" width="8" height="9.5" fill="#ee7d2c"/>
<rect x="827.24" y="454.52" width="8" height="9.5" fill="#ee7d2c"/>
<rect x="850.78" y="454.52" width="8" height="9.5" fill="#ee7d2c"/>
<rect x="874.32" y="457.86" width="8" height="9.5" fill="#ee7d2c"/>
<rect x="897.86" y="455.95" width="8" height="9.5" fill="#ee7d2c"/>
<polyline points="572.30,400.03 595.84,416.28 619.38,411.50 642.92,408.16 666.46,381.40 690.00,357.52 713.54,368.51 737.08,400.51 760.62,403.86 784.16,448.28 807.70,445.89 831.24,445.89 854.78,445.42 878.32,451.15 901.86,446.85" fill="none" stroke="#2f52a4" stroke-width="2.7" stroke-linejoin="round"/>
<path d="M572.30 395.78L575.55 400.03L572.30 404.28L569.05 400.03Z" fill="#3d63bd" stroke="#27458f" stroke-width="0.8"/>
<path d="M595.84 412.03L599.09 416.28L595.84 420.53L592.59 416.28Z" fill="#3d63bd" stroke="#27458f" stroke-width="0.8"/>
<path d="M619.38 407.25L622.63 411.50L619.38 415.75L616.13 411.50Z" fill="#3d63bd" stroke="#27458f" stroke-width="0.8"/>
<path d="M642.92 403.91L646.17 408.16L642.92 412.41L639.67 408.16Z" fill="#3d63bd" stroke="#27458f" stroke-width="0.8"/>
<path d="M666.46 377.15L669.71 381.40L666.46 385.65L663.21 381.40Z" fill="#3d63bd" stroke="#27458f" stroke-width="0.8"/>
<path d="M690.00 353.27L693.25 357.52L690.00 361.77L686.75 357.52Z" fill="#3d63bd" stroke="#27458f" stroke-width="0.8"/>
<path d="M713.54 364.26L716.79 368.51L713.54 372.76L710.29 368.51Z" fill="#3d63bd" stroke="#27458f" stroke-width="0.8"/>
<path d="M737.08 396.26L740.33 400.51L737.08 404.76L733.83 400.51Z" fill="#3d63bd" stroke="#27458f" stroke-width="0.8"/>
<path d="M760.62 399.61L763.87 403.86L760.62 408.11L757.37 403.86Z" fill="#3d63bd" stroke="#27458f" stroke-width="0.8"/>
<path d="M784.16 444.03L787.41 448.28L784.16 452.53L780.91 448.28Z" fill="#3d63bd" stroke="#27458f" stroke-width="0.8"/>
<path d="M807.70 441.64L810.95 445.89L807.70 450.14L804.45 445.89Z" fill="#3d63bd" stroke="#27458f" stroke-width="0.8"/>
<path d="M831.24 441.64L834.49 445.89L831.24 450.14L827.99 445.89Z" fill="#3d63bd" stroke="#27458f" stroke-width="0.8"/>
<path d="M854.78 441.17L858.03 445.42L854.78 449.67L851.53 445.42Z" fill="#3d63bd" stroke="#27458f" stroke-width="0.8"/>
<path d="M878.32 446.90L881.57 451.15L878.32 455.40L875.07 451.15Z" fill="#3d63bd" stroke="#27458f" stroke-width="0.8"/>
<path d="M901.86 442.60L905.11 446.85L901.86 451.10L898.61 446.85Z" fill="#3d63bd" stroke="#27458f" stroke-width="0.8"/>
<text transform="translate(573.00,388.43) scale(0.78,1)" font-size="12.1" fill="#7a7a7a" stroke="#7a7a7a" stroke-width="0.15" text-anchor="middle">15.4</text>
<text transform="translate(596.10,408.63) scale(0.78,1)" font-size="12.1" fill="#7a7a7a" stroke="#7a7a7a" stroke-width="0.15" text-anchor="middle">12</text>
<text transform="translate(619.80,403.83) scale(0.78,1)" font-size="12.1" fill="#7a7a7a" stroke="#7a7a7a" stroke-width="0.15" text-anchor="middle">13</text>
<text transform="translate(642.30,401.73) scale(0.78,1)" font-size="12.1" fill="#7a7a7a" stroke="#7a7a7a" stroke-width="0.15" text-anchor="middle">13.7</text>
<text transform="translate(666.40,368.73) scale(0.78,1)" font-size="12.1" fill="#7a7a7a" stroke="#7a7a7a" stroke-width="0.15" text-anchor="middle">19.3</text>
<text transform="translate(691.00,352.83) scale(0.78,1)" font-size="12.1" fill="#7a7a7a" stroke="#7a7a7a" stroke-width="0.15" text-anchor="middle">24.3</text>
<text transform="translate(713.80,362.83) scale(0.78,1)" font-size="12.1" fill="#7a7a7a" stroke="#7a7a7a" stroke-width="0.15" text-anchor="middle">22</text>
<text transform="translate(738.30,387.73) scale(0.78,1)" font-size="12.1" fill="#7a7a7a" stroke="#7a7a7a" stroke-width="0.15" text-anchor="middle">15.3</text>
<text transform="translate(761.10,396.93) scale(0.78,1)" font-size="12.1" fill="#7a7a7a" stroke="#7a7a7a" stroke-width="0.15" text-anchor="middle">14.6</text>
<text transform="translate(784.20,438.43) scale(0.78,1)" font-size="12.1" fill="#7a7a7a" stroke="#7a7a7a" stroke-width="0.15" text-anchor="middle">5.3</text>
<text transform="translate(816.40,431.73) scale(0.78,1)" font-size="12.1" fill="#7a7a7a" stroke="#7a7a7a" stroke-width="0.15" text-anchor="middle">5.8</text>
<text transform="translate(840.60,435.33) scale(0.78,1)" font-size="12.1" fill="#7a7a7a" stroke="#7a7a7a" stroke-width="0.15" text-anchor="middle">5.8</text>
<text transform="translate(864.10,441.73) scale(0.78,1)" font-size="12.1" fill="#7a7a7a" stroke="#7a7a7a" stroke-width="0.15" text-anchor="middle">5.9</text>
<text transform="translate(884.80,442.13) scale(0.78,1)" font-size="12.1" fill="#7a7a7a" stroke="#7a7a7a" stroke-width="0.15" text-anchor="middle">4.7</text>
<text transform="translate(900.50,435.33) scale(0.78,1)" font-size="12.1" fill="#7a7a7a" stroke="#7a7a7a" stroke-width="0.15" text-anchor="middle">5.6</text>
<text transform="translate(574.80,471.33) scale(0.78,1)" font-size="12.1" fill="#7a7a7a" stroke="#7a7a7a" stroke-width="0.15" text-anchor="middle">3.8</text>
<text transform="translate(597.40,471.33) scale(0.78,1)" font-size="12.1" fill="#7a7a7a" stroke="#7a7a7a" stroke-width="0.15" text-anchor="middle">5.3</text>
<text transform="translate(619.90,472.83) scale(0.78,1)" font-size="12.1" fill="#7a7a7a" stroke="#7a7a7a" stroke-width="0.15" text-anchor="middle">4.3</text>
<text transform="translate(645.00,472.13) scale(0.78,1)" font-size="12.1" fill="#7a7a7a" stroke="#7a7a7a" stroke-width="0.15" text-anchor="middle">4.6</text>
<text transform="translate(669.20,471.13) scale(0.78,1)" font-size="12.1" fill="#7a7a7a" stroke="#7a7a7a" stroke-width="0.15" text-anchor="middle">4.7</text>
<text transform="translate(691.50,468.43) scale(0.78,1)" font-size="12.1" fill="#7a7a7a" stroke="#7a7a7a" stroke-width="0.15" text-anchor="middle">6.8</text>
<text transform="translate(713.80,468.43) scale(0.78,1)" font-size="12.1" fill="#7a7a7a" stroke="#7a7a7a" stroke-width="0.15" text-anchor="middle">7.9</text>
<text transform="translate(737.00,469.23) scale(0.78,1)" font-size="12.1" fill="#7a7a7a" stroke="#7a7a7a" stroke-width="0.15" text-anchor="middle">7.3</text>
<text transform="translate(760.30,466.33) scale(0.78,1)" font-size="12.1" fill="#7a7a7a" stroke="#7a7a7a" stroke-width="0.15" text-anchor="middle">5.6</text>
<text transform="translate(775.00,472.43) scale(0.78,1)" font-size="12.1" fill="#7a7a7a" stroke="#7a7a7a" stroke-width="0.15" text-anchor="middle">2</text>
<text transform="translate(807.80,473.33) scale(0.78,1)" font-size="12.1" fill="#7a7a7a" stroke="#7a7a7a" stroke-width="0.15" text-anchor="middle">3.9</text>
<text transform="translate(830.60,472.03) scale(0.78,1)" font-size="12.1" fill="#7a7a7a" stroke="#7a7a7a" stroke-width="0.15" text-anchor="middle">3</text>
<text transform="translate(854.40,472.03) scale(0.78,1)" font-size="12.1" fill="#7a7a7a" stroke="#7a7a7a" stroke-width="0.15" text-anchor="middle">3</text>
<text transform="translate(878.40,474.93) scale(0.78,1)" font-size="12.1" fill="#7a7a7a" stroke="#7a7a7a" stroke-width="0.15" text-anchor="middle">2.3</text>
<text transform="translate(901.20,473.53) scale(0.78,1)" font-size="12.1" fill="#7a7a7a" stroke="#7a7a7a" stroke-width="0.15" text-anchor="middle">2.7</text>
<text transform="translate(574.30,489.5) scale(0.8,1) rotate(-45)" font-size="10.2" fill="#5f5f5f" stroke="#5f5f5f" stroke-width="0.35" text-anchor="end" textLength="61.71" lengthAdjust="spacing">9.10.2019</text>
<text transform="translate(597.84,489.5) scale(0.8,1) rotate(-45)" font-size="10.2" fill="#5f5f5f" stroke="#5f5f5f" stroke-width="0.35" text-anchor="end" textLength="69.43" lengthAdjust="spacing">23.10.2019</text>
<text transform="translate(621.38,489.5) scale(0.8,1) rotate(-45)" font-size="10.2" fill="#5f5f5f" stroke="#5f5f5f" stroke-width="0.35" text-anchor="end" textLength="68.40" lengthAdjust="spacing">13.11.2019</text>
<text transform="translate(644.92,489.5) scale(0.8,1) rotate(-45)" font-size="10.2" fill="#5f5f5f" stroke="#5f5f5f" stroke-width="0.35" text-anchor="end" textLength="69.43" lengthAdjust="spacing">27.12.2019</text>
<text transform="translate(668.46,489.5) scale(0.8,1) rotate(-45)" font-size="10.2" fill="#5f5f5f" stroke="#5f5f5f" stroke-width="0.35" text-anchor="end" textLength="69.43" lengthAdjust="spacing">09.01.2020</text>
<text transform="translate(692.00,489.5) scale(0.8,1) rotate(-45)" font-size="10.2" fill="#5f5f5f" stroke="#5f5f5f" stroke-width="0.35" text-anchor="end" textLength="69.43" lengthAdjust="spacing">04.02.2020</text>
<text transform="translate(715.54,489.5) scale(0.8,1) rotate(-45)" font-size="10.2" fill="#5f5f5f" stroke="#5f5f5f" stroke-width="0.35" text-anchor="end" textLength="69.43" lengthAdjust="spacing">06.03.2020</text>
<text transform="translate(739.08,489.5) scale(0.8,1) rotate(-45)" font-size="10.2" fill="#5f5f5f" stroke="#5f5f5f" stroke-width="0.35" text-anchor="end" textLength="69.43" lengthAdjust="spacing">03.04.2020</text>
<text transform="translate(762.62,489.5) scale(0.8,1) rotate(-45)" font-size="10.2" fill="#5f5f5f" stroke="#5f5f5f" stroke-width="0.35" text-anchor="end" textLength="69.43" lengthAdjust="spacing">28.04.2020</text>
<text transform="translate(786.16,489.5) scale(0.8,1) rotate(-45)" font-size="10.2" fill="#5f5f5f" stroke="#5f5f5f" stroke-width="0.35" text-anchor="end" textLength="69.43" lengthAdjust="spacing">25.05.2020</text>
<text transform="translate(809.70,489.5) scale(0.8,1) rotate(-45)" font-size="10.2" fill="#5f5f5f" stroke="#5f5f5f" stroke-width="0.35" text-anchor="end" textLength="69.43" lengthAdjust="spacing">15.06.2020</text>
<text transform="translate(833.24,489.5) scale(0.8,1) rotate(-45)" font-size="10.2" fill="#5f5f5f" stroke="#5f5f5f" stroke-width="0.35" text-anchor="end" textLength="69.43" lengthAdjust="spacing">09.07.2020</text>
<text transform="translate(856.78,489.5) scale(0.8,1) rotate(-45)" font-size="10.2" fill="#5f5f5f" stroke="#5f5f5f" stroke-width="0.35" text-anchor="end" textLength="69.43" lengthAdjust="spacing">01.08.2020</text>
<text transform="translate(880.32,489.5) scale(0.8,1) rotate(-45)" font-size="10.2" fill="#5f5f5f" stroke="#5f5f5f" stroke-width="0.35" text-anchor="end" textLength="69.43" lengthAdjust="spacing">24.08.2020</text>
<text transform="translate(903.86,489.5) scale(0.8,1) rotate(-45)" font-size="10.2" fill="#5f5f5f" stroke="#5f5f5f" stroke-width="0.35" text-anchor="end" textLength="69.43" lengthAdjust="spacing">14.09.2020</text>
<line x1="720.8" y1="345.5" x2="744" y2="345.5" stroke="#2f52a4" stroke-width="2.8"/>
<path d="M732.6 341.5L735.6 345.5L732.6 349.5L729.6 345.5Z" fill="#3d63bd"/>
<text x="747" y="348.5" font-size="10.8" fill="#5f5f5f" stroke="#5f5f5f" stroke-width="0.2" textLength="58.2" lengthAdjust="spacingAndGlyphs">Bilirubin,Total</text>
<line x1="819.2" y1="345.5" x2="842.7" y2="345.5" stroke="#ee7d2c" stroke-width="2.8"/>
<rect x="827.4" y="341.7" width="6.6" height="7.6" fill="#ee7d2c"/>
<text x="845.1" y="348.5" font-size="10.8" fill="#5f5f5f" stroke="#5f5f5f" stroke-width="0.2" textLength="62.4" lengthAdjust="spacingAndGlyphs">Bilirubin,Direct</text>
<text x="52" y="40.3" font-size="19.5" font-weight="bold" fill="#000" text-anchor="middle">A</text>
<text x="496" y="40.3" font-size="19.5" font-weight="bold" fill="#000" text-anchor="middle">B</text>
<text x="53" y="313.5" font-size="19.5" font-weight="bold" fill="#000" text-anchor="middle">C</text>
<text x="496.3" y="313.7" font-size="19.5" font-weight="bold" fill="#000" text-anchor="middle">D</text>
<line x1="66.7" y1="562.5" x2="109" y2="562.5" stroke="#9a9a9a" stroke-width="1.2" stroke-dasharray="8.5,4.2" stroke-dashoffset="3.8"/>
<text x="111.5" y="566.2" font-size="13.7" fill="#1a1a1a">:</text>
<text x="120.7" y="566.2" font-size="13.7" fill="#1a1a1a" textLength="132.3" lengthAdjust="spacingAndGlyphs">Initiation of DS-8201a</text>
</svg>
</body></html>
